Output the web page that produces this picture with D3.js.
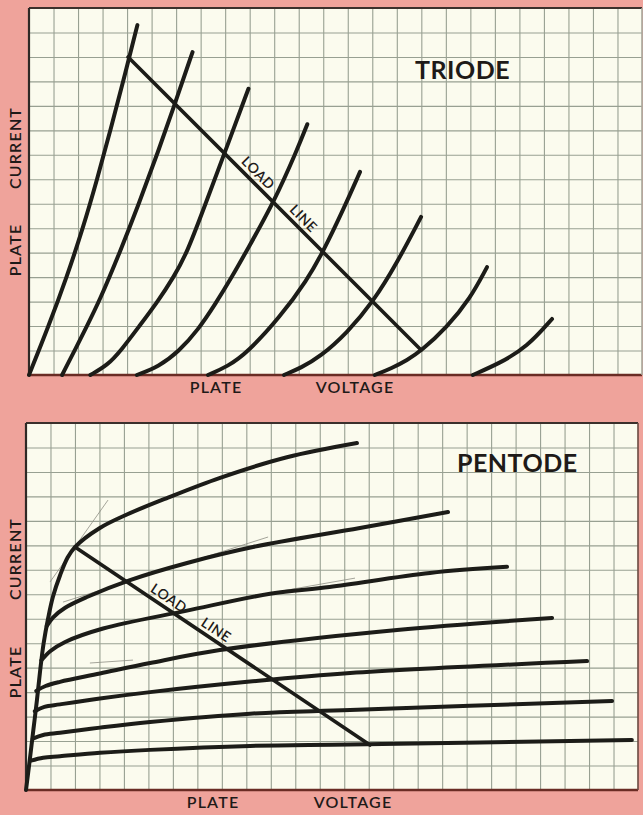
<!DOCTYPE html>
<html>
<head>
<meta charset="utf-8">
<script src="https://cdn.jsdelivr.net/npm/d3@7/dist/d3.min.js"></script>
<style>
  html, body { margin: 0; padding: 0; background: #efa39b; }
  svg { display: block; }
  text { font-family: Lato, "Open Sans", sans-serif; fill: #1e1a18; }
</style>
</head>
<body>
<svg id="chart" width="643" height="815"></svg>
<script>
// Grid size of each sheet (cells)
const gridCols = 25;
const gridRows = 15;

// ---- Triode plate characteristics (plate voltage, plate current in grid cells) ----
const triodeCurve1 = [[0,0],[0.8,2],[1.54,4],[2.2,6],[2.78,8],[3.32,10],[3.84,12],[4.42,14.3]];
const triodeCurve2 = [[1.35,0],[1.86,1],[2.36,2],[2.86,3],[3.7,5],[4.48,7],[5.22,9],[5.92,11],[6.67,13.2]];
const triodeCurve3 = [[2.5,0],[3.2,0.4],[3.75,1],[4.5,2],[5.25,3],[5.9,4],[6.45,5],[7.2,7],[7.99,9.11],[8.95,11.7]];
const triodeCurve4 = [[4.4,0],[5.3,0.35],[6.1,0.95],[6.9,1.85],[7.6,2.9],[8.3,4.05],[8.89,5.1],[9.99,7.07],[10.93,9.19],[11.35,10.25]];
const triodeCurve5 = [[7.3,0],[8.1,0.35],[8.89,0.9],[10.24,2.37],[11.34,3.88],[11.99,5.03],[12.81,6.74],[13.5,8.3]];
const triodeCurve6 = [[10.4,0],[11.1,0.3],[11.87,0.74],[12.97,1.72],[14.03,2.98],[15.01,4.58],[15.99,6.46]];
const triodeCurve7 = [[14.1,0],[14.8,0.28],[15.42,0.61],[15.99,0.98],[17.05,1.96],[17.99,3.12],[18.68,4.41]];
const triodeCurve8 = [[18.1,0],[19.21,0.49],[20.31,1.14],[21.33,2.29]];
const triodeCurves = [triodeCurve1, triodeCurve2, triodeCurve3, triodeCurve4,
                      triodeCurve5, triodeCurve6, triodeCurve7, triodeCurve8];
const triodeLoadLine = [[4.04,13.0],[15.99,1.02]];

// ---- Pentode plate characteristics ----
const pentodeCurve1 = [[0,0],[0.15,1.2],[0.3,2.45],[0.45,3.7],[0.58,4.9],[0.72,6.0],[0.9,7.0],[1.1,7.9],[1.4,8.8],[1.7,9.5],[2.0,9.93],
                       [3.0,10.7],[4.1,11.25],[5.8,11.95],[7.9,12.75],[10.66,13.6],[13.52,14.18]];
const pentodeCurve2 = [[0.85,6.7],[1.1,7.05],[1.6,7.45],[2.49,7.89],[4.25,8.58],[6.58,9.28],[9.27,9.93],[13.64,10.71],[17.24,11.36]];
const pentodeCurve3 = [[0.63,5.3],[1.0,5.68],[1.6,6.05],[3.15,6.6],[6.58,7.33],[9.97,8.02],[12.4,8.3],[16.5,8.87],[19.65,9.12]];
const pentodeCurve4 = [[0.42,4.05],[0.8,4.25],[1.39,4.42],[3.02,4.76],[5.07,5.19],[7.92,5.72],[15.16,6.54],[21.49,7.03]];
const pentodeCurve5 = [[0.36,3.22],[0.75,3.4],[1.39,3.5],[3.02,3.74],[5.07,4.0],[9.15,4.43],[13.24,4.78],[22.92,5.27]];
const pentodeCurve6 = [[0.28,2.1],[0.7,2.25],[1.39,2.34],[3.02,2.55],[5.07,2.78],[9.15,3.12],[13.24,3.27],[23.94,3.64]];
const pentodeCurve7 = [[0.2,1.2],[0.7,1.32],[1.39,1.38],[3.02,1.52],[5.07,1.64],[9.15,1.8],[13.24,1.86],[24.75,2.04]];
const pentodeCurves = [pentodeCurve1, pentodeCurve2, pentodeCurve3, pentodeCurve4,
                       pentodeCurve5, pentodeCurve6, pentodeCurve7];
const pentodeLoadLine = [[2.0,9.93],[14.05,1.84]];

// Faint pencil construction strokes on the pentode sheet
const pentodeGuides = [
  [[0.98,8.5],[3.35,11.85]],
  [[1.51,7.68],[9.89,10.34]],
  [[9.97,8.05],[13.44,8.66]],
  [[2.61,5.19],[4.37,5.31]]
];

// Text
const titles = ["TRIODE", "PENTODE"];
const xAxisWords = ["PLATE", "VOLTAGE"];
const yAxisWords = ["CURRENT", "PLATE"];
const loadWords = ["LOAD", "LINE"];

const svg = d3.select("#chart");

svg.append("rect").attr("width", 643).attr("height", 815).attr("fill", "#efa39b");

function drawSheet(cfg) {
  const x = d3.scaleLinear().domain([0, gridCols]).range([cfg.left, cfg.right]);
  const y = d3.scaleLinear().domain([0, gridRows]).range([cfg.bottom, cfg.top]);
  const g = svg.append("g");

  // paper
  g.append("rect")
    .attr("x", cfg.left).attr("y", cfg.top)
    .attr("width", cfg.right - cfg.left).attr("height", cfg.bottom - cfg.top)
    .attr("fill", "#fbfbee");

  // grid via axes with full-length ticks
  const xGrid = d3.axisBottom(x).tickValues(d3.range(1, gridCols)).tickSize(-(cfg.bottom - cfg.top)).tickFormat("");
  const yGrid = d3.axisLeft(y).tickValues(d3.range(1, gridRows)).tickSize(-(cfg.right - cfg.left)).tickFormat("");
  const gx = g.append("g").attr("transform", `translate(0,${cfg.bottom})`).call(xGrid);
  const gy = g.append("g").attr("transform", `translate(${cfg.left},0)`).call(yGrid);
  [gx, gy].forEach(a => {
    a.select(".domain").remove();
    a.selectAll("line").attr("stroke", "#98a092").attr("stroke-width", 1.1);
  });

  // sheet borders
  g.append("line").attr("x1", cfg.left).attr("x2", cfg.right).attr("y1", cfg.top).attr("y2", cfg.top)
    .attr("stroke", "#3b302c").attr("stroke-width", 2);
  g.append("line").attr("x1", cfg.left).attr("x2", cfg.left).attr("y1", cfg.top).attr("y2", cfg.bottom)
    .attr("stroke", "#2f2926").attr("stroke-width", 2.2);
  g.append("line").attr("x1", cfg.left).attr("x2", cfg.right).attr("y1", cfg.bottom).attr("y2", cfg.bottom)
    .attr("stroke", "#6a2c24").attr("stroke-width", 2.6);
  g.append("line").attr("x1", cfg.right).attr("x2", cfg.right).attr("y1", cfg.top).attr("y2", cfg.bottom)
    .attr("stroke", cfg.rightColor).attr("stroke-width", 1.6);

  const line = d3.line().x(d => x(d[0])).y(d => y(d[1])).curve(cfg.curveType);
  const straight = d3.line().x(d => x(d[0])).y(d => y(d[1]));

  if (cfg.guides) {
    g.selectAll("path.guide").data(cfg.guides).join("path").attr("class", "guide")
      .attr("d", straight).attr("fill", "none").attr("stroke", "#8e8e84").attr("stroke-width", 0.8);
  }

  g.selectAll("path.curve").data(cfg.curves).join("path").attr("class", "curve")
    .attr("d", line).attr("fill", "none").attr("stroke", "#1c1c18")
    .attr("stroke-width", 4).attr("stroke-linecap", "round").attr("stroke-linejoin", "round");

  g.append("path").datum(cfg.load).attr("d", straight).attr("fill", "none")
    .attr("stroke", "#1c1c18").attr("stroke-width", 3.6).attr("stroke-linecap", "round");

  // load line lettering, set along the line
  const p0 = cfg.load[0], p1 = cfg.load[1];
  const ang = Math.atan2(y(p1[1]) - y(p0[1]), x(p1[0]) - x(p0[0])) * 180 / Math.PI;
  cfg.loadText.forEach((t, i) => {
    const f = t.at;
    const px = x(p0[0]) + (x(p1[0]) - x(p0[0])) * f;
    const py = y(p0[1]) + (y(p1[1]) - y(p0[1])) * f;
    g.append("text")
      .attr("transform", `translate(${px},${py}) rotate(${ang}) translate(0,-5)`)
      .attr("text-anchor", "middle").attr("font-size", 14).attr("font-weight", 600)
      .attr("letter-spacing", 0.5)
      .text(loadWords[i]);
  });

  // title
  g.append("text").attr("x", cfg.titleX).attr("y", cfg.titleY)
    .attr("font-size", 25).attr("font-weight", 700).attr("letter-spacing", 0.5).text(cfg.title);

  // axis words
  cfg.xWords.forEach((w, i) => {
    g.append("text").attr("x", w.cx).attr("y", cfg.bottom + 18).attr("text-anchor", "middle")
      .attr("font-size", 16).attr("font-weight", 600).attr("letter-spacing", 1.2).text(xAxisWords[i]);
  });
  cfg.yWords.forEach((w, i) => {
    g.append("text").attr("transform", `translate(21,${w.cy}) rotate(-90)`).attr("text-anchor", "middle")
      .attr("font-size", 16).attr("font-weight", 600).attr("letter-spacing", 1.2).text(yAxisWords[i]);
  });
}

drawSheet({
  left: 29, right: 642, top: 8, bottom: 375, rightColor: "#a8a89c",
  curves: triodeCurves, load: triodeLoadLine, curveType: d3.curveBasis,
  loadText: [{at: 0.42}, {at: 0.575}],
  title: titles[0], titleX: 415, titleY: 79,
  xWords: [{cx: 216}, {cx: 355}],
  yWords: [{cy: 148}, {cy: 250}]
});

drawSheet({
  left: 26, right: 638, top: 423, bottom: 790, rightColor: "#6b4a40",
  curves: pentodeCurves, load: pentodeLoadLine, guides: pentodeGuides,
  curveType: d3.curveCatmullRom.alpha(0.5),
  loadText: [{at: 0.3}, {at: 0.46}],
  title: titles[1], titleX: 457, titleY: 472,
  xWords: [{cx: 213}, {cx: 353}],
  yWords: [{cy: 559}, {cy: 672}]
});
</script>
</body>
</html>
